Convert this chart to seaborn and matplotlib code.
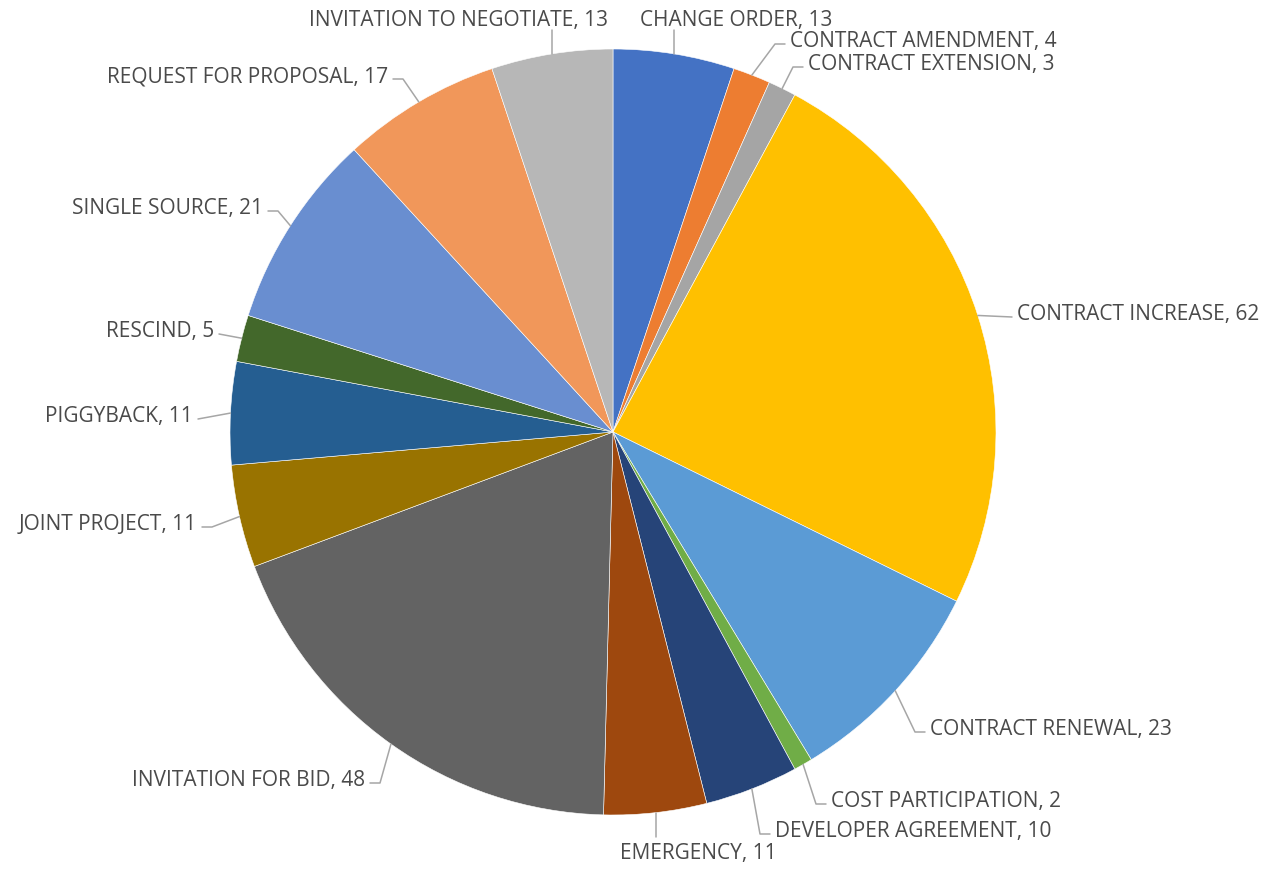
import numpy as np
import matplotlib
matplotlib.use("Agg")
import matplotlib.pyplot as plt
import seaborn as sns

# 数据 (clockwise from 12 o'clock)
categories = ["CHANGE ORDER", "CONTRACT AMENDMENT", "CONTRACT EXTENSION", "CONTRACT INCREASE",
              "CONTRACT RENEWAL", "COST PARTICIPATION", "DEVELOPER AGREEMENT", "EMERGENCY",
              "INVITATION FOR BID", "JOINT PROJECT", "PIGGYBACK", "RESCIND", "SINGLE SOURCE",
              "REQUEST FOR PROPOSAL", "INVITATION TO NEGOTIATE"]
counts = [13, 4, 3, 62, 23, 2, 10, 11, 48, 11, 11, 5, 21, 17, 13]
colors = ["#4472C4", "#ED7D31", "#A5A5A5", "#FFC000", "#5B9BD5", "#70AD47", "#264478", "#9E480E",
          "#636363", "#997300", "#255E91", "#43682B", "#698ED0", "#F1975A", "#B7B7B7"]

# label layout in pixels: (ha, text x, text y, style) ; style 'v' = vertical leader, 'h' = elbow
label_layout = [
    ("left", 640, 19, "v"), ("left", 790, 40, "h"), ("left", 808, 63, "h"), ("left", 1017, 313, "h"),
    ("left", 930, 728, "h"), ("left", 831, 800, "h"), ("left", 775, 830, "h"), ("left", 620, 852, "v"),
    ("right", 365, 779, "h"), ("right", 197, 523, "h"), ("right", 193, 415, "h"), ("right", 214, 330, "h"),
    ("right", 263, 207, "h"), ("right", 388, 75, "h"), ("right", 608, 19, "v"),
]

W, H = 1263, 870
CX, CY, R = 613, 433, 383


def px(x, y):
    return (x - CX) / R, (CY - y) / R


sns.set_theme(style="white")
plt.rcParams["font.family"] = ["Open Sans", "DejaVu Sans"]

fig = plt.figure(figsize=(W / 100, H / 100), dpi=100)
ax = fig.add_axes([0, 0, 1, 1])
wedges, _ = ax.pie(counts, colors=sns.color_palette(colors), startangle=90, counterclock=False,
                   radius=1, center=(0, 0), wedgeprops=dict(edgecolor="white", linewidth=0.4))

line_col = "#A6A6A6"
txt_col = "#4A4A4A"
for w, name, n, (ha, tx, ty, style) in zip(wedges, categories, counts, label_layout):
    ang = np.deg2rad((w.theta1 + w.theta2) / 2)
    ex, ey = np.cos(ang), np.sin(ang)
    x, y = px(tx, ty + 2)
    ax.text(x, y, f"{name}, {n}", ha=ha, va="center", fontsize=15, color=txt_col)
    if style == "v":
        _, ly = px(0, ty + 12 if ey > 0 else ty - 14)
        ax.plot([ex, ex], [ey, ly], color=line_col, lw=1.1)
    else:
        s = 1 if ha == "left" else -1
        _, ly = px(0, ty + 5)
        gap = 5 / R
        elbow = x - s * (gap + 10 / R)
        if abs(ey - ly) < 8 / R:
            ax.plot([ex, x - s * gap], [ey, ly], color=line_col, lw=1.1)
        else:
            ax.plot([ex, elbow, x - s * gap], [ey, ly, ly], color=line_col, lw=1.1)

x0, y0 = px(0, H)
x1, y1 = px(W, 0)
ax.set_xlim(x0, x1)
ax.set_ylim(y0, y1)
ax.axis("off")
fig.savefig("out.png", dpi=100, facecolor="white")
